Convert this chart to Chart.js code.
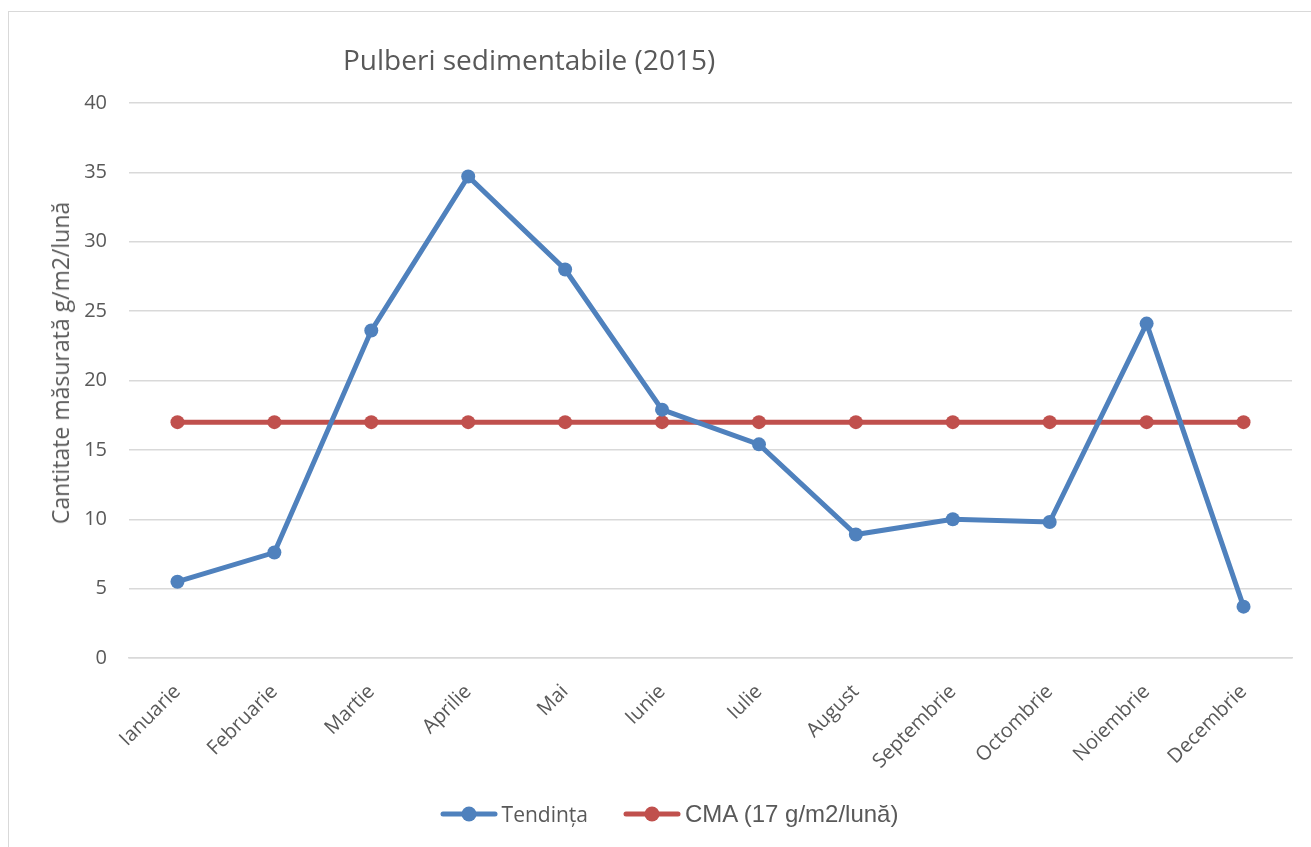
<!DOCTYPE html>
<html>
<head>
<meta charset="utf-8">
<script src="https://cdn.jsdelivr.net/npm/chart.js@4/dist/chart.umd.min.js"></script>
<style>
  html, body { margin: 0; padding: 0; background: #fff; overflow: hidden; }
  #wrap { position: relative; width: 1311px; height: 847px; }
  #frame { position: absolute; left: 8px; top: 11px; width: 1320px; height: 860px; border: 1px solid #d9d9d9; box-sizing: border-box; }
  #title { position: absolute; left: 343px; top: 39px; font-family: "Open Sans", sans-serif; font-size: 28px; color: #595959; white-space: nowrap; line-height: 40px; }
  #ytitle { position: absolute; left: 60px; top: 363px; transform: translate(-50%, -50%) rotate(-90deg); font-family: "Open Sans", sans-serif; font-size: 23px; color: #595959; white-space: nowrap; line-height: 30px; }
  #legend { position: absolute; left: 0; width: 1338px; top: 800px; display: flex; justify-content: center; align-items: center; color: #595959; white-space: nowrap; }
  .item { display: flex; align-items: center; }
  .t1 { font-family: "Open Sans", sans-serif; font-size: 21px; margin-left: 4px; margin-right: 35px; }
  .t2 { font-family: "Liberation Sans", Arial, sans-serif; font-size: 24px; margin-left: 4px; }
  #c { position: absolute; left: 0; top: 0; }
</style>
</head>
<body>
<div id="wrap">
  <div id="frame"></div>
  <canvas id="c" width="1311" height="847"></canvas>
  <div id="title">Pulberi sedimentabile (2015)</div>
  <div id="ytitle"></div>
  <div id="legend"></div>
</div>
<script>
const categories = ["Ianuarie","Februarie","Martie","Aprilie","Mai","Iunie","Iulie","August","Septembrie","Octombrie","Noiembrie","Decembrie"];
const tendintaValues = [5.5, 7.6, 23.6, 34.7, 28.0, 17.9, 15.4, 8.9, 10.0, 9.8, 24.1, 3.7];
const cmaValues = [17, 17, 17, 17, 17, 17, 17, 17, 17, 17, 17, 17];
const seriesNames = ["Tendința", "CMA (17 g/m2/lună)"];
const yTitle = "Cantitate măsurată g/m2/lună";

const BLUE = "#4f81bd";
const RED = "#c0504d";
const colors = [BLUE, RED];

document.getElementById("ytitle").textContent = yTitle;

function legendIcon(color) {
  const cv = document.createElement("canvas");
  cv.width = 58; cv.height = 18;
  const x = cv.getContext("2d");
  x.strokeStyle = color; x.lineWidth = 5; x.lineCap = "round";
  x.beginPath(); x.moveTo(3, 9); x.lineTo(55, 9); x.stroke();
  x.fillStyle = color;
  x.beginPath(); x.arc(29, 9, 7.5, 0, Math.PI * 2); x.fill();
  return cv;
}

const legendEl = document.getElementById("legend");
seriesNames.forEach((name, i) => {
  const item = document.createElement("div");
  item.className = "item";
  item.appendChild(legendIcon(colors[i]));
  const s = document.createElement("span");
  s.className = i === 0 ? "t1" : "t2";
  s.textContent = name;
  item.appendChild(s);
  legendEl.appendChild(item);
});

new Chart(document.getElementById("c"), {
  type: "line",
  data: {
    labels: categories,
    datasets: [
      { label: seriesNames[0], data: tendintaValues, borderColor: BLUE, backgroundColor: BLUE,
        borderWidth: 5, pointRadius: 7, pointHoverRadius: 7, pointBackgroundColor: BLUE, pointBorderWidth: 0, tension: 0 },
      { label: seriesNames[1], data: cmaValues, borderColor: RED, backgroundColor: RED,
        borderWidth: 5, pointRadius: 7, pointHoverRadius: 7, pointBackgroundColor: RED, pointBorderWidth: 0, tension: 0 }
    ]
  },
  options: {
    responsive: false,
    animation: false,
    layout: { padding: { left: 0, right: 19, top: 103, bottom: 69 } },
    plugins: {
      title: { display: false },
      tooltip: { enabled: false },
      legend: { display: false }
    },
    scales: {
      x: {
        offset: true,
        grid: { display: false, drawTicks: false },
        border: { display: true, color: "#d9d9d9", width: 1.5 },
        afterFit(scale) { scale.height = 120; },
        ticks: {
          color: "#595959", maxRotation: 45, minRotation: 45, padding: 22,
          font: { family: "'Open Sans', sans-serif", size: 20 }
        }
      },
      y: {
        min: 0, max: 40,
        afterFit(scale) { scale.width = 129; },
        ticks: { stepSize: 5, color: "#595959", padding: 22, font: { family: "'Open Sans', sans-serif", size: 20 } },
        grid: { color: "#d9d9d9", lineWidth: 1.5, drawTicks: false },
        border: { display: false },
        title: { display: false }
      }
    }
  }
});
</script>
</body>
</html>
